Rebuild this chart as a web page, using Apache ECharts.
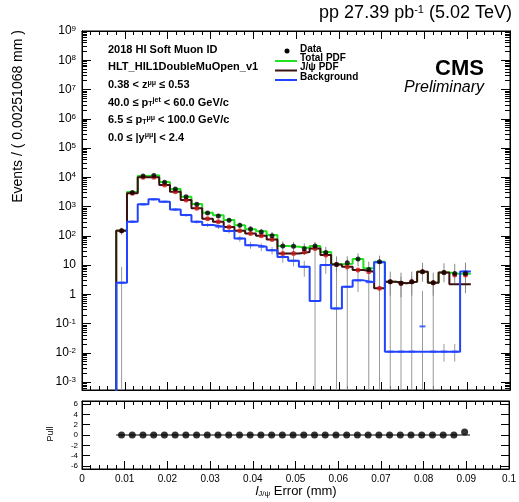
<!DOCTYPE html>
<html>
<head>
<meta charset="utf-8">
<script src="https://cdn.jsdelivr.net/npm/echarts@6/dist/echarts.min.js"></script>
<style>
html, body { margin: 0; padding: 0; background: #fff; }
#chart { width: 519px; height: 502px; }
</style>
</head>
<body>
<div id="chart"></div>
<script>
// binning of the l_J/psi error histogram
var binLow = 0.0080;
var binWidth = 0.00251068;

// data points (black) and their error bars
var dataVals = [150, 3000, 11000, 11500, 6800, 4000, 2150, 1200, 600, 480, 340, 230, 170, 135, 100, 45, 44, 36, 45, 27, 10.5, 12, 16, 7, 13, 2.7, 2.4, 2.7, 5.9, 2.5, 5.6, 5.2, 5.2];
var dataHi = [190, 3200, 11500, 12000, 7100, 4200, 2300, 1300, 680, 560, 400, 280, 210, 175, 135, 65, 62, 55, 62, 42, 18, 20, 25, 13, 21, 6, 5.5, 6, 12, 5.5, 11.5, 11, 12];
var dataLo = [110, 2800, 10500, 11000, 6500, 3800, 2000, 1100, 530, 410, 285, 185, 135, 100, 72, 30, 28, 22, 30, 16, 5.5, 6.5, 9, 3, 7, 0.9, 0.8, 0.9, 2.7, 0.9, 2.6, 2.4, 1.1];

// fit components
var totalPdf = [152, 3130, 11100, 11700, 6900, 4000, 2180, 1220, 615, 505, 345, 231, 168, 142, 107, 45, 42, 38, 45, 28, 10.7, 11, 16, 7.8, 13, 2.7, 2.4, 2.7, 5.9, 2.5, 5.6, 5.0, 5.0];
var jpsiPdf = [149, 2830, 9950, 9950, 5430, 3210, 1670, 868, 380, 300, 200, 150, 120, 100, 75, 25, 25, 28, 37, 22, 10.5, 8.7, 6.8, 5.9, 1.6, 2.7, 2.4, 2.7, 5.9, 2.5, 5.6, 2.2, 2.2];
var jpsiPts = [149, 2830, 9950, 9950, 5430, 3210, 1670, 868, 380, 300, 200, 150, 120, 100, 75, 25, 25, 28, 37, 22, 10.5, 8.7, 6.8, 5.9, 1.6, 2.7, 2.4, 2.7, 5.9, 2.5, 5.6, 4.6, 4.6];
var bkgPdf = [2.5, 302, 1190, 1760, 1460, 790, 510, 300, 235, 205, 145, 81, 48, 42, 32, 19, 14, 8.7, 0.59, 10, 0.33, 1.8, 3, 2.6, 12.5, 0.011, 0.011, 0.011, 0.011, 0.011, 0.011, 0.011, 6];
var bkgPts = [2.5, 302, 1190, 1760, 1460, 790, 510, 300, 235, 205, 145, 81, 48, 42, 32, 19, 14, 8.7, 0.59, 10, 0.33, 1.8, 3, 2.6, 12.5, 0.011, 0.011, 0.011, 0.08, 0.011, 0.011, 0.011, 6];
var bkgHi = [8.7, 340, 1300, 1900, 1580, 870, 570, 340, 270, 240, 170, 100, 62, 55, 42, 27, 21, 14, 30, 16, 20, 15, 6, 4, 20, 3, 4, 4, 1.3, 3, 0.02, 0.02, 12];
var bkgLo = [1e-9, 270, 1080, 1620, 1340, 710, 450, 260, 200, 170, 120, 62, 36, 30, 23, 12, 9, 4, 1e-9, 5, 1e-9, 1e-9, 1.2, 1e-9, 1e-9, 1e-9, 1e-9, 1e-9, 1e-9, 1e-9, 0.005, 0.005, 2.5];

// pull panel
var pullVals = [0, 0, 0, 0, 0, 0, 0, 0, 0, 0, 0, 0, 0, 0, 0, 0, 0, 0, 0, 0, 0, 0, 0, 0, 0, 0, 0, 0, 0, 0, 0, 0, 0.6];

// tick labels
var logMajor = [1e-3, 1e-2, 1e-1, 1, 10, 1e2, 1e3, 1e4, 1e5, 1e6, 1e7, 1e8, 1e9];
var pullTicks = [-6, -4, -2, 0, 2, 4, 6];

var FONT = 'Liberation Sans';
var yMin = Math.pow(10, -3.27);

var logMinor = [];
for (var e = -4; e < 9; e++) {
    for (var k = 2; k <= 9; k++) {
        var t = k * Math.pow(10, e);
        if (t > yMin && t < 1e9) logMinor.push(t);
    }
}

var centers = dataVals.map(function (v, i) { return binLow + binWidth * (i + 0.5); });
var binHigh = binLow + binWidth * dataVals.length;

function stepLine(vals) {
    var pts = [[binLow, 1e-9]];
    vals.forEach(function (v, i) {
        pts.push([binLow + binWidth * i, v]);
        pts.push([binLow + binWidth * (i + 1), v]);
    });
    return pts;
}

function pairs(vals) {
    return vals.map(function (v, i) { return [centers[i], v]; });
}

function errBars(lo, hi, color) {
    return {
        type: 'custom',
        xAxisIndex: 0,
        yAxisIndex: 0,
        clip: true,
        silent: true,
        z: 3,
        encode: { x: 0, y: [1, 2] },
        data: centers.map(function (c, i) { return [c, lo[i], hi[i]]; }),
        renderItem: function (params, api) {
            var p1 = api.coord([api.value(0), api.value(1)]);
            var p2 = api.coord([api.value(0), api.value(2)]);
            return {
                type: 'line',
                shape: { x1: p1[0], y1: p1[1], x2: p2[0], y2: p2[1] },
                style: { stroke: color, lineWidth: 1 }
            };
        }
    };
}

function logLabel(value) {
    var l = Math.log10(value);
    var e = Math.round(l);
    if (Math.abs(l - e) > 1e-6) return '';
    if (e === 0) return '1';
    if (e === 1) return '10';
    return '10{s|' + e + '}';
}

function xAx(gridIndex, position, showLabel) {
    return {
        type: 'value',
        gridIndex: gridIndex,
        position: position,
        min: 0,
        max: 0.1,
        interval: 0.01,
        axisLine: { show: true, onZero: false, lineStyle: { color: '#000', width: 1 } },
        axisTick: { show: true, inside: true, length: 8, lineStyle: { color: '#000' } },
        minorTick: { show: true, splitNumber: 5, length: 4, lineStyle: { color: '#000' } },
        splitLine: { show: false },
        axisLabel: { show: showLabel, fontFamily: FONT, fontSize: 10, color: '#000', margin: 5 }
    };
}

function yLog(position, ticks, len, showLabel) {
    return {
        type: 'log',
        logBase: 10,
        gridIndex: 0,
        position: position,
        min: yMin,
        max: 1e9,
        axisLine: { show: true, onZero: false, lineStyle: { color: '#000', width: 1 } },
        axisTick: { show: true, inside: true, length: len, customValues: ticks, lineStyle: { color: '#000' } },
        minorTick: { show: false },
        splitLine: { show: false },
        axisLabel: {
            show: showLabel,
            customValues: ticks,
            formatter: logLabel,
            fontFamily: FONT,
            fontSize: 12,
            color: '#000',
            margin: 6,
            rich: { s: { fontFamily: FONT, fontSize: 8, verticalAlign: 'top', color: '#000' } }
        }
    };
}

function yPull(position, showLabel) {
    return {
        type: 'value',
        gridIndex: 1,
        position: position,
        min: -6.6,
        max: 6.6,
        axisLine: { show: true, onZero: false, lineStyle: { color: '#000', width: 1 } },
        axisTick: { show: true, inside: true, length: 8, customValues: pullTicks, lineStyle: { color: '#000' } },
        splitLine: { show: false },
        axisLabel: { show: showLabel, customValues: pullTicks, fontFamily: FONT, fontSize: 8, color: '#000', margin: 4 }
    };
}

var chart = echarts.init(document.getElementById('chart'));

var option = {
    animation: false,
    backgroundColor: '#fff',
    grid: [
        { left: 82, top: 31, width: 428, height: 359, show: true, borderColor: '#000', borderWidth: 1 },
        { left: 82, top: 401, width: 428, height: 68, show: true, borderColor: '#000', borderWidth: 1 }
    ],
    xAxis: [
        xAx(0, 'bottom', false),
        xAx(0, 'top', false),
        xAx(1, 'bottom', true),
        xAx(1, 'top', false)
    ],
    yAxis: [
        yLog('left', logMajor, 9, true),
        yLog('right', logMajor, 9, false),
        yLog('left', logMinor, 5, false),
        yLog('right', logMinor, 5, false),
        yPull('left', true),
        yPull('right', false)
    ],
    series: [
        errBars(bkgLo, bkgHi, '#999'),
        errBars(dataLo, dataHi, '#888'),
        {
            name: 'Total PDF',
            type: 'line',
            xAxisIndex: 0, yAxisIndex: 0,
            data: stepLine(totalPdf),
            showSymbol: false,
            lineStyle: { color: '#22e022', width: 2 },
            z: 4
        },
        {
            name: 'J/ψ PDF',
            type: 'line',
            xAxisIndex: 0, yAxisIndex: 0,
            data: stepLine(jpsiPdf),
            showSymbol: false,
            lineStyle: { color: '#3a1010', width: 2 },
            z: 5
        },
        {
            name: 'Background',
            type: 'line',
            xAxisIndex: 0, yAxisIndex: 0,
            data: stepLine(bkgPdf),
            showSymbol: false,
            lineStyle: { color: '#2244ff', width: 2 },
            z: 5
        },
        {
            type: 'scatter',
            xAxisIndex: 0, yAxisIndex: 0,
            data: pairs(bkgPts),
            symbol: 'rect',
            symbolSize: [6, 2],
            itemStyle: { color: '#2244ff' },
            z: 6
        },
        {
            type: 'scatter',
            xAxisIndex: 0, yAxisIndex: 0,
            data: pairs(jpsiPts),
            symbolSize: 5,
            itemStyle: { color: '#cc1515' },
            z: 6
        },
        {
            name: 'Data',
            type: 'scatter',
            xAxisIndex: 0, yAxisIndex: 0,
            data: pairs(dataVals),
            symbolSize: 5,
            itemStyle: { color: '#000' },
            z: 7
        },
        {
            type: 'line',
            xAxisIndex: 2, yAxisIndex: 4,
            data: [[binLow, 0], [binHigh, 0]],
            showSymbol: false,
            lineStyle: { color: '#000', width: 1 },
            z: 3
        },
        {
            name: 'Pull',
            type: 'scatter',
            xAxisIndex: 2, yAxisIndex: 4,
            data: pairs(pullVals),
            symbolSize: 7,
            itemStyle: { color: '#000' },
            z: 4
        }
    ],
    graphic: [
        {
            type: 'text', x: 512, y: 13,
            style: {
                text: 'pp 27.39 pb{s|-1} (5.02 TeV)', align: 'right', verticalAlign: 'middle',
                font: '18px "Liberation Sans"', fill: '#000',
                rich: { s: { fontFamily: FONT, fontSize: 11, verticalAlign: 'top', fill: '#000' } }
            }
        },
        { type: 'text', x: 484, y: 69, style: { text: 'CMS', align: 'right', verticalAlign: 'middle', font: 'bold 22px "Liberation Sans"', fill: '#000' } },
        { type: 'text', x: 484, y: 88, style: { text: 'Preliminary', align: 'right', verticalAlign: 'middle', font: 'italic 16px "Liberation Sans"', fill: '#000' } },

        { type: 'text', x: 108, y: 50, style: { text: '2018 HI Soft Muon ID', verticalAlign: 'middle', font: 'bold 11px "Liberation Sans"', fill: '#000' } },
        { type: 'text', x: 108, y: 67, style: { text: 'HLT_HIL1DoubleMuOpen_v1', verticalAlign: 'middle', font: 'bold 11px "Liberation Sans"', fill: '#000' } },
        {
            type: 'text', x: 108, y: 85,
            style: {
                text: '0.38 < z{s|μμ} ≤ 0.53', verticalAlign: 'middle', font: 'bold 11px "Liberation Sans"', fill: '#000',
                rich: { s: { fontFamily: FONT, fontSize: 7, fontWeight: 'bold', verticalAlign: 'top', fill: '#000' } }
            }
        },
        {
            type: 'text', x: 108, y: 102.5,
            style: {
                text: '40.0 ≤ p{b|T}{s|jet} < 60.0 GeV/c', verticalAlign: 'middle', font: 'bold 11px "Liberation Sans"', fill: '#000',
                rich: {
                    s: { fontFamily: FONT, fontSize: 7, fontWeight: 'bold', verticalAlign: 'top', fill: '#000' },
                    b: { fontFamily: FONT, fontSize: 7, fontWeight: 'bold', verticalAlign: 'bottom', fill: '#000' }
                }
            }
        },
        {
            type: 'text', x: 108, y: 120,
            style: {
                text: '6.5 ≤ p{b|T}{s|μμ} < 100.0 GeV/c', verticalAlign: 'middle', font: 'bold 11px "Liberation Sans"', fill: '#000',
                rich: {
                    s: { fontFamily: FONT, fontSize: 7, fontWeight: 'bold', verticalAlign: 'top', fill: '#000' },
                    b: { fontFamily: FONT, fontSize: 7, fontWeight: 'bold', verticalAlign: 'bottom', fill: '#000' }
                }
            }
        },
        {
            type: 'text', x: 108, y: 137.5,
            style: {
                text: '0.0 ≤ |y{s|μμ}| < 2.4', verticalAlign: 'middle', font: 'bold 11px "Liberation Sans"', fill: '#000',
                rich: { s: { fontFamily: FONT, fontSize: 7, fontWeight: 'bold', verticalAlign: 'top', fill: '#000' } }
            }
        },

        // legend
        { type: 'circle', shape: { cx: 287, cy: 51, r: 2.5 }, style: { fill: '#000' } },
        { type: 'line', shape: { x1: 275, y1: 61, x2: 297, y2: 61 }, style: { stroke: '#22e022', lineWidth: 2 } },
        { type: 'line', shape: { x1: 275, y1: 70.5, x2: 297, y2: 70.5 }, style: { stroke: '#3a1010', lineWidth: 2 } },
        { type: 'line', shape: { x1: 275, y1: 80, x2: 297, y2: 80 }, style: { stroke: '#2244ff', lineWidth: 2 } },
        { type: 'text', x: 300, y: 49, style: { text: 'Data', verticalAlign: 'middle', font: 'bold 10px "Liberation Sans"', fill: '#000' } },
        { type: 'text', x: 300, y: 58, style: { text: 'Total PDF', verticalAlign: 'middle', font: 'bold 10px "Liberation Sans"', fill: '#000' } },
        { type: 'text', x: 300, y: 67.5, style: { text: 'J/ψ PDF', verticalAlign: 'middle', font: 'bold 10px "Liberation Sans"', fill: '#000' } },
        { type: 'text', x: 300, y: 77, style: { text: 'Background', verticalAlign: 'middle', font: 'bold 10px "Liberation Sans"', fill: '#000' } },

        // axis titles
        {
            type: 'text', x: 18, y: 30, rotation: Math.PI / 2,
            style: { text: 'Events / ( 0.00251068 mm )', align: 'right', verticalAlign: 'middle', font: '14px "Liberation Sans"', fill: '#000' }
        },
        {
            type: 'text', x: 51, y: 434, rotation: Math.PI / 2,
            style: { text: 'Pull', align: 'center', verticalAlign: 'middle', font: '9px "Liberation Sans"', fill: '#000' }
        },
        {
            type: 'text', x: 296, y: 491,
            style: {
                text: '{i|l}{b|J/ψ} Error (mm)', align: 'center', verticalAlign: 'middle', font: '13px "Liberation Sans"', fill: '#000',
                rich: {
                    i: { fontFamily: FONT, fontSize: 13, fontStyle: 'italic', fill: '#000' },
                    b: { fontFamily: FONT, fontSize: 8, verticalAlign: 'bottom', fill: '#000' }
                }
            }
        }
    ]
};

chart.setOption(option);
</script>
</body>
</html>
